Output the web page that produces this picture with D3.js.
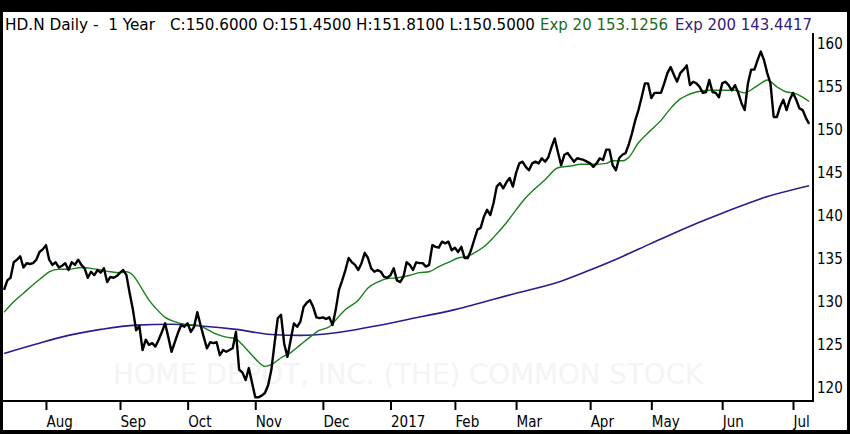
<!DOCTYPE html>
<html><head><meta charset="utf-8">
<script src="https://cdn.jsdelivr.net/npm/d3@7"></script>
<style>
html,body{margin:0;padding:0;background:#000;}
svg{display:block;}
text{font-family:"DejaVu Sans Condensed","DejaVu Sans",sans-serif;font-stretch:condensed;}
</style>
</head><body>
<svg id="c" width="850" height="434"></svg>
<script>
// ---- data ----
// daily closes, trading-day index 0..250 (mid Jul 2016 .. Jul 2017)
const closeValues = [
131.3,132.4,132.7,134.5,134.8,135.2,133.9,134.4,134.3,134.4,
134.8,135.7,136.0,136.5,134.8,134.2,134.5,133.9,134.1,134.4,
133.6,134.5,134.2,134.8,134.2,133.8,132.7,133.4,133.0,133.6,
133.3,133.8,132.2,132.8,132.7,132.9,133.3,133.6,133.0,130.9,
129.0,126.6,127.1,124.3,125.5,124.9,125.1,124.7,125.5,126.4,
127.4,125.8,124.1,125.2,126.3,127.2,127.0,127.4,126.4,127.0,
128.7,127.2,125.8,124.5,125.2,125.1,125.2,123.7,124.3,124.1,
124.3,124.5,126.4,122.0,121.7,120.8,122.2,120.5,118.8,118.8,
119.0,119.3,120.2,122.0,125.1,128.0,128.4,125.0,123.5,125.5,
127.4,127.0,127.6,129.3,129.8,130.1,129.3,128.1,128.0,128.1,
127.9,128.1,127.2,129.0,131.3,132.4,133.6,135.0,134.5,134.2,
133.6,134.4,135.6,135.0,133.8,133.4,133.6,133.4,132.8,132.7,
133.0,133.8,132.4,132.2,132.8,134.5,134.2,133.6,134.5,134.4,
134.4,134.0,134.2,136.5,136.3,136.2,136.9,136.7,136.9,135.9,
136.2,135.7,136.3,135.0,135.0,135.9,137.1,138.3,138.5,139.8,
140.6,140.0,141.4,143.3,143.7,143.1,143.8,144.3,143.3,144.9,
146.0,146.2,145.6,145.2,146.0,146.2,146.0,146.6,146.2,146.7,
147.9,148.9,147.3,145.8,147.0,147.2,146.7,146.2,146.6,146.5,
146.4,146.2,146.0,145.6,146.0,146.6,146.4,147.6,147.6,145.8,
145.2,146.6,147.0,147.2,148.2,149.5,151.0,152.2,153.7,155.3,
155.3,153.6,154.2,154.2,154.2,155.3,156.5,157.2,156.3,155.5,
156.5,156.9,157.4,155.1,155.5,155.3,154.9,154.2,154.3,155.7,
154.3,154.2,153.7,155.3,155.5,155.1,154.5,155.1,154.2,153.0,
152.2,155.3,156.9,156.9,158.0,159.0,158.0,156.5,155.3,151.4,
151.4,152.6,153.4,152.2,153.4,154.2,153.4,152.4,152.2,151.3,
150.6];

// Exp 20 read at these trading-day indices
const ema20Idx = [0,3,6,9,12,14,17,20,24,27,30,33,36,38,40,43,45,47,50,53,
56,60,62,65,69,72,74,77,79,81,83,86,89,92,95,98,101,103,106,110,
113,116,119,122,126,129,132,135,138,141,144,146,149,152,156,159,162,165,168,172,
176,179,183,187,189,192,194,197,201,204,207,210,212,215,219,223,227,230,233,235,
237,240,243,245,248,250];
const ema20Values = [128.7,129.9,130.9,131.9,132.8,133.4,133.7,133.7,133.9,133.8,
133.6,133.4,133.3,133.4,133.0,131.3,130.1,129.2,128.1,127.6,
127.3,127.2,126.9,126.3,125.8,125.6,124.9,123.7,122.9,122.4,
122.6,123.4,124.0,124.9,125.8,126.6,127.0,127.8,129.0,130.1,
131.5,132.2,132.6,132.7,133.0,133.3,133.4,134.0,134.5,135.0,
135.2,135.6,136.3,137.4,139.1,140.6,142.0,143.1,144.1,145.5,
145.7,145.9,145.9,146.0,146.3,146.3,146.7,148.4,149.9,151.0,
152.4,153.5,153.9,154.3,154.5,154.5,154.5,154.2,154.8,155.3,
155.7,154.9,154.3,154.2,153.7,153.2];

// Exp 200 read at these trading-day indices
const ema200Idx = [0,10,20,30,41,52,61,72,83,92,103,114,126,140,159,173,182,191,201,213,223,235,250];
const ema200Values = [123.9,125.0,126.0,126.7,127.2,127.3,127.1,126.7,126.1,126.0,126.3,127.0,127.9,129.0,130.9,132.3,133.6,135.0,136.7,138.7,140.2,141.9,143.4];

const monthLabels = ["Aug","Sep","Oct","Nov","Dec","2017","Feb","Mar","Apr","May","Jun","Jul"];
const monthStartIdx = [13,36,57,78,99,120,140,159,182,201,223,245];
const priceTicks = [120,125,130,135,140,145,150,155,160];

const headerTitle = "HD.N Daily -  1 Year";
const headerOHLC = "C:150.6000 O:151.4500 H:151.8100 L:150.5000";
const headerEma20 = "Exp 20 153.1256";
const headerEma200 = "Exp 200 143.4417";
const watermark = "HOME DEPOT, INC. (THE) COMMON STOCK";

// ---- drawing ----
const svg = d3.select("#c");
const W = 850, H = 434;
const plotLeft = 3, plotRight = 813, plotTop = 33, plotBottom = 401;

svg.append("rect").attr("x",0).attr("y",0).attr("width",W).attr("height",H).attr("fill","#000");
svg.append("rect").attr("x",3).attr("y",12).attr("width",844).attr("height",418).attr("fill","#fff");

const x = d3.scaleLinear().domain([0,250]).range([4.1,809.1]);
const y = d3.scaleLinear().domain([120,160]).range([387,43]);

// watermark
svg.append("text").attr("x",113).attr("y",384).text(watermark)
  .attr("textLength",590).attr("lengthAdjust","spacingAndGlyphs")
  .style("font-family","'DejaVu Sans',sans-serif").style("font-stretch","normal")
  .attr("font-size",28).attr("fill","#f4f4f4");

// header
const hdr = [
  {t:headerTitle, x:5, len:150, c:"#000"},
  {t:headerOHLC, x:170, len:365, c:"#000"},
  {t:headerEma20, x:540, len:128, c:"#1a6b1a"},
  {t:headerEma200, x:675, len:137, c:"#33207a"}
];
svg.selectAll("text.hdr").data(hdr).enter().append("text").attr("class","hdr")
  .attr("x",d=>d.x).attr("y",30).text(d=>d.t)
  .attr("textLength",d=>d.len).attr("lengthAdjust","spacingAndGlyphs")
  .style("white-space","pre").attr("font-size",15).attr("fill",d=>d.c);

// clip
svg.append("clipPath").attr("id","pc").append("rect")
  .attr("x",plotLeft).attr("y",plotTop).attr("width",plotRight-plotLeft-1).attr("height",plotBottom-plotTop);

const g = svg.append("g").attr("clip-path","url(#pc)");

const lineSmooth = d3.line().x(d=>x(d[0])).y(d=>y(d[1])).curve(d3.curveMonotoneX);
g.append("path").datum(ema200Idx.map((d,i)=>[d,ema200Values[i]]))
  .attr("d",lineSmooth).attr("fill","none").attr("stroke","#2b1b8f").attr("stroke-width",1.6);
g.append("path").datum(ema20Idx.map((d,i)=>[d,ema20Values[i]]))
  .attr("d",lineSmooth).attr("fill","none").attr("stroke","#1b7f1b").attr("stroke-width",1.4);

const linePrice = d3.line().x((d,i)=>x(i)).y(d=>y(d));
g.append("path").datum(closeValues).attr("d",linePrice)
  .attr("fill","none").attr("stroke","#000").attr("stroke-width",2.4).attr("stroke-linejoin","round");

// bottom axis
const xAxis = d3.axisBottom(x).tickValues(monthStartIdx)
  .tickFormat(d=>monthLabels[monthStartIdx.indexOf(d)]).tickSize(9).tickSizeOuter(0);
const gx = svg.append("g").attr("transform",`translate(0,${plotBottom})`).call(xAxis);
gx.select(".domain").remove();
gx.selectAll(".tick line").attr("stroke","#000").attr("stroke-width",2);
gx.selectAll(".tick text").attr("text-anchor","start").attr("x",0).attr("y",26).attr("dy",0)
  .attr("font-size",15).attr("fill","#000").style("font-family",null);
gx.attr("font-family",null).attr("font-size",null);

// right axis
const yAxis = d3.axisRight(y).tickValues(priceTicks).tickSize(0).tickPadding(4).tickFormat(d3.format("d"));
const gy = svg.append("g").attr("transform",`translate(${plotRight},0)`).call(yAxis);
gy.select(".domain").remove();
gy.selectAll(".tick text").attr("font-size",15).attr("fill","#000").attr("dy","0.36em");
gy.attr("font-family",null).attr("font-size",null);

// frame lines
svg.append("line").attr("x1",plotLeft).attr("x2",plotRight+1).attr("y1",plotBottom).attr("y2",plotBottom)
  .attr("stroke","#000").attr("stroke-width",2);
svg.append("line").attr("x1",plotRight).attr("x2",plotRight).attr("y1",plotTop).attr("y2",plotBottom+1)
  .attr("stroke","#000").attr("stroke-width",2);
</script>
</body></html>
